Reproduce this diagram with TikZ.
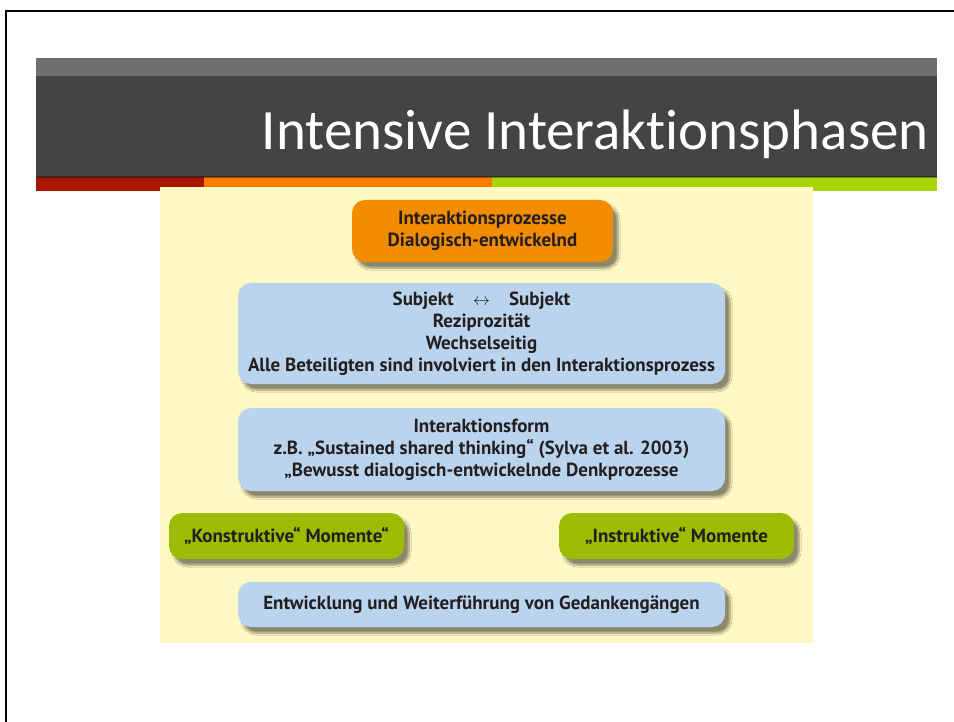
\documentclass[tikz,border=0pt]{standalone}
\usepackage{fontspec}
\setmainfont{PT Sans}
\newfontfamily\titlefont[Ligatures=NoCommon]{Carlito}
\definecolor{barlight}{RGB}{112,112,112}
\definecolor{bardark}{RGB}{68,68,68}
\definecolor{stripred}{RGB}{170,21,0}
\definecolor{striporange}{RGB}{255,122,0}
\definecolor{stripgreen}{RGB}{168,213,0}
\definecolor{panelyellow}{RGB}{254,248,195}
\definecolor{boxorange}{RGB}{242,140,0}
\definecolor{boxblue}{RGB}{187,212,237}
\definecolor{boxgreen}{RGB}{155,188,0}
\definecolor{textdark}{RGB}{35,31,32}
\usetikzlibrary{shadows.blur}

\tikzset{
  phasebox/.style={rounded corners=13pt, draw=none, align=center,
    text=textdark, font=\bfseries\fontsize{19}{22}\selectfont,
    blur shadow={shadow xshift=5pt, shadow yshift=-6pt,
      shadow blur steps=6, shadow opacity=45}},
}

\begin{document}
\begin{tikzpicture}[x=1pt, y=-1pt]
    \useasboundingbox (0,0) rectangle (954,722);
    \fill[white] (0,0) rectangle (954,722);
    \draw[line width=2pt] (6,722) -- (6,11) -- (954,11);
    % title bar
    \fill[barlight] (36,58) rectangle (937,76);
    \fill[bardark] (36,76) rectangle (937,177);
    \fill[stripred] (36,177) rectangle (204,191);
    \fill[striporange] (204,177) rectangle (492,191);
    \fill[stripgreen] (492,177) rectangle (937,191);
    \fill[black, opacity=0.35] (36,176) rectangle (937,178);
    \node[anchor=base east, inner sep=0pt, text=white,
          font=\titlefont\fontsize{57}{60}\selectfont] (title) at (929,150)
      {Intensive Interaktionsphasen};
    % panel
    \fill[panelyellow] (160,187) rectangle (813,643);
    \node[phasebox, fill=boxorange, minimum width=261pt, minimum height=62pt]
      (prozess) at (482.5,231) {Interaktionsprozesse\\Dialogisch-entwickelnd};
    \node[phasebox, fill=boxblue, minimum width=487pt, minimum height=101pt]
      (subjekt) at (481.5,333.5)
      {Subjekt\quad$\leftrightarrow$\quad Subjekt\\Reziprozität\\Wechselseitig\\
       Alle Beteiligten sind involviert in den Interaktionsprozess};
    \node[phasebox, fill=boxblue, minimum width=487pt, minimum height=83pt]
      (form) at (481.5,449.5)
      {Interaktionsform\\z.B. „Sustained shared thinking“ (Sylva et al. 2003)\\
       „Bewusst dialogisch-entwickelnde Denkprozesse};
    \node[phasebox, fill=boxgreen, minimum width=235pt, minimum height=46pt]
      (konstruktiv) at (286.5,536) {„Konstruktive“ Momente“};
    \node[phasebox, fill=boxgreen, minimum width=235pt, minimum height=46pt]
      (instruktiv) at (676.5,536) {„Instruktive“ Momente};
    \node[phasebox, fill=boxblue, minimum width=487pt, minimum height=45pt]
      (entwicklung) at (481.5,604.5)
      {Entwicklung und Weiterführung von Gedankengängen};
\end{tikzpicture}
\end{document}
